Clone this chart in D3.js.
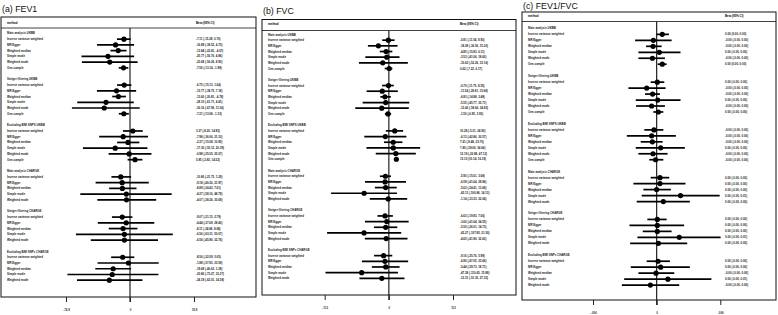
<!DOCTYPE html>
<html>
<head>
<meta charset="utf-8">
<script src="https://cdn.jsdelivr.net/npm/d3@7"></script>
<style>
    html, body { margin: 0; padding: 0; background: #fff; }
    svg { display: block; font-family: "Liberation Sans", Arial, sans-serif; }
</style>
</head>
<body>
<svg id="canvas"></svg>
<script>
(() => {

    const WIDTH = 778;
    const HEIGHT = 315;
    const ROW_FONT = 2.9;
    const CI_STROKE_WIDTH = 1.7;
    const POINT_RADIUS = 2.6;

    const groups = ["Main analysis UKBB", "Steiger filtering UKBB", "Excluding BMI SNPS UKBB",
        "Main analysis CHARGE", "Steiger filtering CHARGE", "Excluding BMI SNPs CHARGE"];
    const methodsUKBB = ["Inverse variance weighted", "MR Egger", "Weighted median",
        "Simple mode", "Weighted mode", "One-sample"];
    const methodsCHARGE = ["Inverse variance weighted", "MR Egger", "Weighted median",
        "Simple mode", "Weighted mode"];

    // FEV1
    const fev1Beta = [-7.11, -16.89, -13.84, -25.77, -23.68, -7.56,
        -6.75, -15.77, -13.60, -28.10, -30.16, -7.21,
        3.27, -7.98, -2.37, -17.30, -0.98, 5.85,
        -10.80, -9.18, -8.89, -4.27, -4.07,
        -9.07, -4.44, -8.11, -6.56, -6.56,
        -8.56, -1.88, -19.68, -20.80, -24.19];
    const fev1Lower = [-15.28, -38.52, -22.81, -56.76, -56.26, -13.14,
        -15.13, -38.75, -20.81, -61.71, -67.96, -13.08,
        -8.20, -36.06, -15.08, -55.12, -25.05, -2.82,
        -21.75, -40.26, -24.43, -58.16, -38.26,
        -21.15, -37.69, -24.86, -63.31, -45.90,
        -22.09, -37.93, -40.63, -73.27, -62.01];
    const fev1Upper = [0.70, 4.75, -4.07, 4.86, 8.93, -1.98,
        1.64, 7.18, -4.78, 4.41, 11.36, -1.33,
        14.93, 21.10, 10.95, 20.39, 25.07, 14.52,
        1.29, 21.97, 7.61, 48.79, 30.69,
        2.79, 28.40, 8.68, 50.07, 32.76,
        5.05, 33.59, 1.28, 33.27, 14.58];

    // FVC
    const fvcBeta = [-0.81, -18.28, -4.85, -3.53, -10.63, 0.62,
        -0.70, -11.54, -6.83, -5.55, -12.43, -1.50,
        10.28, -6.13, 7.61, 7.80, 12.19, 13.10,
        -5.93, -6.59, -5.63, -43.11, -1.14,
        -6.63, -3.60, -5.50, -43.27, -4.65,
        -9.16, -6.80, -5.44, -47.38, -12.31];
    const fvcLower = [-11.54, -36.56, -15.83, -41.06, -52.26, -7.22,
        -11.75, -38.81, -14.88, -45.77, -58.66, -6.95,
        -5.31, -42.86, -8.48, -39.06, -22.88, 10.14,
        -15.61, -41.64, -24.41, -100.86, -33.33,
        -19.83, -41.64, -26.01, -107.85, -41.90,
        -25.76, -47.05, -29.73, -110.65, -51.35];
    const fvcUpper = [9.93, 15.20, 6.11, 18.60, 33.16, 6.17,
        8.55, 15.68, 3.48, 35.71, 34.83, 3.93,
        24.93, 30.57, 23.70, 54.66, 47.12, 16.18,
        3.68, 29.86, 13.68, 14.13, 32.04,
        7.06, 34.55, 14.73, 21.50, 32.60,
        5.99, 33.66, 18.71, 15.89, 27.32];

    // FEV1/FVC
    const ratioBeta = [0.00053, -0.00031, -0.00034, 0.00025, -0.00040, 0.00053,
        0.00006, -0.00094, -0.00038, 0.00010, -0.00047, 0.00016,
        -0.00025, -0.00047, -0.00040, 0.00038, -0.00034, -0.00010,
        0.00031, 0.00031, 0.00000, 0.00225, 0.00063,
        0.00006, 0.00006, 0.00006, 0.00213, 0.00016,
        0.00013, 0.00038, -0.00006, 0.00106, -0.00059];
    const ratioLower = [0.00002, -0.00203, -0.00100, -0.00172, -0.00172, 0.00010,
        -0.00056, -0.00266, -0.00110, -0.00197, -0.00194, -0.00031,
        -0.00116, -0.00281, -0.00150, -0.00197, -0.00172, -0.00069,
        -0.00056, -0.00219, -0.00125, -0.00141, -0.00188,
        -0.00088, -0.00256, -0.00131, -0.00181, -0.00250,
        -0.00094, -0.00244, -0.00172, -0.00306, -0.00328];
    const ratioUpper = [0.00116, 0.00141, 0.00047, 0.00225, 0.00078, 0.00094,
        0.00072, 0.00084, 0.00031, 0.00225, 0.00078, 0.00063,
        0.00063, 0.00181, 0.00056, 0.00266, 0.00103, 0.00063,
        0.00119, 0.00272, 0.00134, 0.00594, 0.00313,
        0.00094, 0.00259, 0.00141, 0.00603, 0.00288,
        0.00125, 0.00313, 0.00166, 0.00516, 0.00213];

    const fev1Ticks = [-74.9, 0, 74.9];
    const fev1TickLabels = ["-74.9", "0", "74.9"];
    const fvcTicks = [-112, 0, 112];
    const fvcTickLabels = ["-112", "0", "112"];
    const ratioTicks = [-0.006, 0, 0.006];
    const ratioTickLabels = ["-.006", "0", ".006"];

    const panels = [
        {title: "(a) FEV1", beta: fev1Beta, lower: fev1Lower, upper: fev1Upper,
            ticks: fev1Ticks, tickLabels: fev1TickLabels,
            left: 1, right: 256, top: 17, bottom: 297, titleY: 11.8, headerY: 23.6, dividerY: 28,
            rowY0: 33.4, pitch: 5.74, range: [66, 194], textX: 7, valueX: 196, tickLabelY: 309.5},
        {title: "(b) FVC", beta: fvcBeta, lower: fvcLower, upper: fvcUpper,
            ticks: fvcTicks, tickLabels: fvcTickLabels,
            left: 262, right: 516, top: 19.5, bottom: 295, titleY: 13.8, headerY: 24.8, dividerY: 30.5,
            rowY0: 34.5, pitch: 5.67, range: [324.7, 453], textX: 268, valueX: 460, tickLabelY: 307.5},
        {title: "(c) FEV1/FVC", beta: ratioBeta, lower: ratioLower, upper: ratioUpper,
            ticks: ratioTicks, tickLabels: ratioTickLabels,
            left: 522, right: 776, top: 12, bottom: 300, titleY: 8.8, headerY: 17, dividerY: 21.5,
            rowY0: 28.4, pitch: 5.97, range: [593, 720.3], textX: 528, valueX: 725, tickLabelY: 313}
    ];

    // row layout: group label, its methods, then one blank row
    function buildRows() {
        let rows = [];
        let idx = 0;
        let k = 0;
        groups.forEach((g, gi) => {
            rows.push({type: "group", label: g, idx: idx++});
            let methods = gi < 3 ? methodsUKBB : methodsCHARGE;
            methods.forEach(m => {
                rows.push({type: "method", label: m, idx: idx++, k: k++});
            });
            idx++;
        });
        return rows;
    }

    function fmt(v) {
        return v.toFixed(2);
    }

    function drawPanel(svg, p, rows) {
        let g = svg.append("g").attr("class", "panel");
        let x = d3.scaleLinear().domain([p.ticks[0], p.ticks[2]]).range(p.range);
        let y = i => p.rowY0 + i * p.pitch;

        g.append("text")
            .attr("x", p.left + 1)
            .attr("y", p.titleY)
            .attr("font-size", 8.8)
            .attr("fill", "#111")
            .text(p.title);

        g.append("rect")
            .attr("x", p.left)
            .attr("y", p.top)
            .attr("width", p.right - p.left)
            .attr("height", p.bottom - p.top)
            .attr("fill", "none")
            .attr("stroke", "#111")
            .attr("stroke-width", 1);

        g.append("line")
            .attr("x1", p.left).attr("x2", p.right)
            .attr("y1", p.dividerY).attr("y2", p.dividerY)
            .attr("stroke", "#111")
            .attr("stroke-width", 0.8);

        g.append("text")
            .attr("x", p.textX).attr("y", p.headerY)
            .attr("font-size", ROW_FONT).attr("font-weight", "bold")
            .text("method");
        g.append("text")
            .attr("x", p.valueX).attr("y", p.headerY)
            .attr("font-size", ROW_FONT).attr("font-weight", "bold")
            .text("Beta (95% CI)");

        // zero reference line
        g.append("line")
            .attr("x1", x(0)).attr("x2", x(0))
            .attr("y1", p.dividerY).attr("y2", p.bottom + 5)
            .attr("stroke", "#222")
            .attr("stroke-width", 1.2);

        // axis below the box
        let axis = d3.axisBottom(x)
            .tickValues(p.ticks)
            .tickFormat((d, i) => p.tickLabels[i])
            .tickSize(5)
            .tickSizeOuter(0);
        let ax = g.append("g")
            .attr("transform", `translate(0, ${p.bottom})`)
            .call(axis);
        ax.select(".domain").remove();
        ax.selectAll("line").attr("stroke", "#222").attr("stroke-width", 1);
        ax.selectAll("text")
            .attr("y", p.tickLabelY - p.bottom)
            .attr("dy", "0.35em")
            .attr("font-size", ROW_FONT)
            .attr("font-weight", "bold")
            .attr("font-family", "Liberation Sans, Arial, sans-serif")
            .attr("fill", "#333");

        g.selectAll("text.rowlabel")
            .data(rows)
            .enter()
            .append("text")
            .attr("class", "rowlabel")
            .attr("x", p.textX)
            .attr("y", d => y(d.idx))
            .attr("dy", "0.35em")
            .attr("font-size", ROW_FONT)
            .attr("font-weight", "bold")
            .attr("fill", "#222")
            .text(d => d.label);

        let methodRows = rows.filter(d => d.type === "method");

        g.selectAll("text.value")
            .data(methodRows)
            .enter()
            .append("text")
            .attr("class", "value")
            .attr("x", p.valueX)
            .attr("y", d => y(d.idx))
            .attr("dy", "0.35em")
            .attr("font-size", ROW_FONT)
            .attr("font-weight", "bold")
            .attr("fill", "#222")
            .text(d => `${fmt(p.beta[d.k])} (${fmt(p.lower[d.k])}, ${fmt(p.upper[d.k])})`);

        g.selectAll("line.ci")
            .data(methodRows)
            .enter()
            .append("line")
            .attr("class", "ci")
            .attr("x1", d => x(p.lower[d.k]))
            .attr("x2", d => x(p.upper[d.k]))
            .attr("y1", d => y(d.idx))
            .attr("y2", d => y(d.idx))
            .attr("stroke", "#000")
            .attr("stroke-width", CI_STROKE_WIDTH);

        g.selectAll("circle.point")
            .data(methodRows)
            .enter()
            .append("circle")
            .attr("class", "point")
            .attr("cx", d => x(p.beta[d.k]))
            .attr("cy", d => y(d.idx))
            .attr("r", POINT_RADIUS)
            .attr("fill", "#000");
    }

    let svg = d3.select("#canvas")
        .attr("width", WIDTH)
        .attr("height", HEIGHT);

    svg.append("rect")
        .attr("width", WIDTH)
        .attr("height", HEIGHT)
        .attr("fill", "#fff");

    let rows = buildRows();
    panels.forEach(p => drawPanel(svg, p, rows));

})();
</script>
</body>
</html>
